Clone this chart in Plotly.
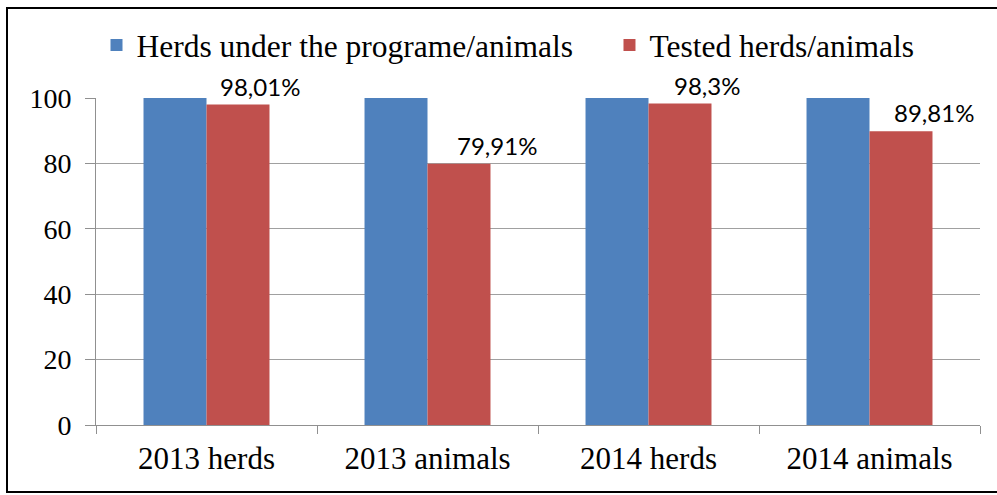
import plotly.graph_objects as go

# Categories and series values (percent)
categories = ["2013 herds", "2013 animals", "2014 herds", "2014 animals"]
under_programme = [100, 100, 100, 100]
tested = [98.01, 79.91, 98.3, 89.81]
tested_labels = ["98,01%", "79,91%", "98,3%", "89,81%"]
y_ticks = [0, 20, 40, 60, 80, 100]

# horizontal nudge (px) of each value label from its bar centre
label_dx = [22, 38, 27, 33]

BLUE = "#4F81BD"
RED = "#C0504D"
SERIF = "Liberation Serif, Times New Roman, serif"
SANS = "Lato, Carlito, Calibri, sans-serif"

fig = go.Figure()
# trailing no-break spaces widen the gap between the two legend entries
fig.add_trace(go.Bar(x=categories, y=under_programme,
                     name="Herds under the programe/animals" + "\u00a0" * 4,
                     marker=dict(color=BLUE, line=dict(width=0))))
fig.add_trace(go.Bar(x=categories, y=tested, name="Tested herds/animals",
                     marker=dict(color=RED, line=dict(width=0))))

# value labels above the red bars
for i, (val, txt) in enumerate(zip(tested, tested_labels)):
    fig.add_annotation(x=i + 0.1425, y=val, xref="x", yref="y", text=txt, showarrow=False,
                       yanchor="bottom", yshift=2, xshift=label_dx[i],
                       font=dict(family=SANS, size=24, color="#000000"))

W, H = 997, 495
L, R, T, B = 96, 17, 98, 70
pw, ph = W - L - R, H - T - B

# outer frame around the whole chart
fig.add_shape(type="rect", xref="paper", yref="paper",
              x0=(7 - L) / pw, x1=(1010 - L) / pw,
              y0=-(492 - (H - B)) / ph, y1=(H - B - 8) / ph,
              line=dict(color="#000000", width=2), fillcolor="rgba(0,0,0,0)", layer="above")

fig.update_layout(
    width=W, height=H,
    margin=dict(l=L, r=R, t=T, b=B, autoexpand=False),
    paper_bgcolor="white", plot_bgcolor="white",
    barmode="group", bargap=0.43, bargroupgap=0,
    font=dict(family=SERIF, size=28, color="#000000"),
    legend=dict(orientation="h", x=(508 - L) / pw, xanchor="center", y=(H - B - 45) / ph,
                yanchor="middle", font=dict(family=SERIF, size=31.5), itemwidth=30,
                tracegroupgap=0, bgcolor="rgba(0,0,0,0)"),
    showlegend=True,
)
fig.update_yaxes(range=[0, 100], tickvals=y_ticks, showgrid=True, gridcolor="#A0A0A0", gridwidth=1,
                 showline=True, linecolor="#909090", linewidth=1,
                 ticks="outside", ticklen=10, tickcolor="#909090", ticklabelstandoff=8,
                 tickfont=dict(family=SERIF, size=28), zeroline=False)
fig.update_xaxes(showline=True, linecolor="#909090", linewidth=1,
                 ticks="outside", ticklen=8, tickcolor="#909090", tickson="boundaries",
                 ticklabelstandoff=6,
                 tickfont=dict(family=SERIF, size=31), showgrid=False)

fig.write_html("out.html")
